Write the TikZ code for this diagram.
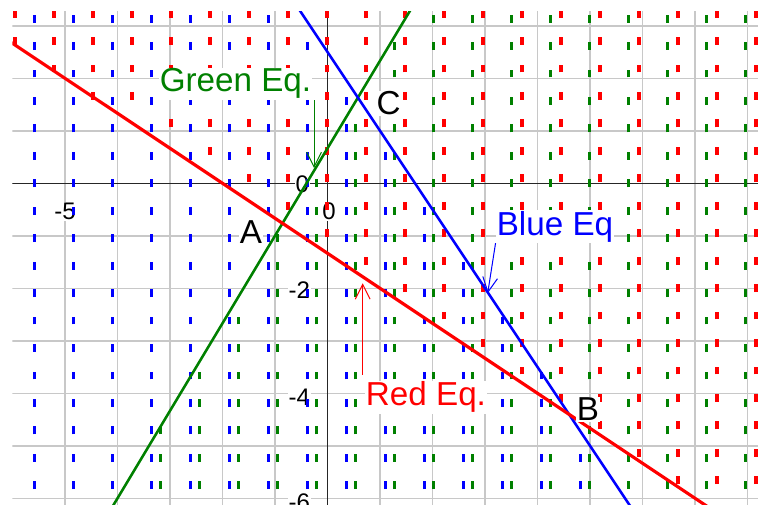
\documentclass[tikz,border=0pt]{standalone}
\usepackage{fontspec}
\setmainfont{Liberation Sans}
\usepackage{tikz}
\usetikzlibrary{arrows.meta}

\definecolor{gridgray}{RGB}{200,200,200}
\definecolor{eqgreen}{RGB}{0,128,0}

\begin{document}
\begin{tikzpicture}[
      gridline/.style={gridgray, line width=0.85pt},
      axisline/.style={black!85, line width=0.7pt},
      ticklabel/.style={fill=white, inner sep=0.5pt, font=\fontsize{13}{13}\selectfont},
      regiontick/.style={line width=1.8pt},
      eqline/.style={line width=1.4pt},
      ptlabel/.style={fill=white, inner sep=0.5pt, anchor=base, font=\fontsize{18}{18}\selectfont},
      eqarrow/.style={-{Straight Barb[length=8pt,width=8pt]}, line width=0.55pt}
    ]
      \useasboundingbox (-6.238,-6.109) rectangle (8.390,3.491);

      \begin{scope}
      \clip (-6,-6.109) rectangle (8.2,3.263);
      % Grid and axes
      \foreach \x in {-5,...,8} \draw[gridline] (\x,-6.2) -- (\x,3.3);
      \foreach \y in {-6,...,3} \draw[gridline] (-6,\y) -- (8.2,\y);
      \draw[axisline] (-6,0) -- (8.2,0);
      \draw[axisline] (0,-6.2) -- (0,3.3);

      % Tick labels
      \node[ticklabel] (xm5) at (-5,-0.54) {-5};
      \node[ticklabel] (x0) at (0.03,-0.53) {0};
      \node[ticklabel, anchor=east] (y0) at (-0.33,-0.01) {0};
      \node[ticklabel, anchor=east] (ym2) at (-0.31,-2.04) {-2};
      \node[ticklabel, anchor=east] (ym4) at (-0.31,-4.08) {-4};
      \node[ticklabel, anchor=east] (ym6) at (-0.31,-6.07) {-6};

      % Half-plane marks
      \foreach \k in {0,...,19}
        \foreach \j in {-11,...,6} {
          \pgfmathsetmacro\bx{-5.5848+0.74286*\k}
          \pgfmathsetmacro\gx{-5.4038+0.74286*\k}
          \pgfmathsetmacro\rx{-5.9524+0.74286*\k}
          \pgfmathsetmacro\by{0.52286*\j}
          \pgfmathsetmacro\ry{0.095+0.52286*\j}
          \pgfmathtruncatemacro\inblue{3*\bx+2*\by<5}
          \pgfmathtruncatemacro\ingreen{5*\gx-3*\by>-2}
          \pgfmathtruncatemacro\inred{2*\rx+3*\ry>-4}
          \ifnum\inblue=1 \draw[regiontick, blue] (\bx,\by-0.075) -- (\bx,\by+0.075); \fi
          \ifnum\ingreen=1 \draw[regiontick, eqgreen] (\gx,\by-0.075) -- (\gx,\by+0.075); \fi
          \ifnum\inred=1 \draw[regiontick, red] (\rx,\ry-0.075) -- (\rx,\ry+0.075); \fi
        }

      % Lines
      \draw[eqline, eqgreen] (-5,-7.667) -- (2,4);
      \draw[eqline, blue] (-1,4) -- (6,-6.5);
      \draw[eqline, red, line width=1.7pt] (-7,3.333) -- (9,-7.333);
      \end{scope}

      % Points and equation labels
      \node[ptlabel] (ptA) at (-1.457,-1.143) {A};
      \node[ptlabel] (ptB) at (4.962,-4.522) {B};
      \node[ptlabel] (ptC) at (1.162,1.301) {C};
      \node[ptlabel, text=eqgreen] (greenlbl) at (-1.752,1.739) {Green Eq.};
      \node[ptlabel, text=red] (redlbl) at (1.876,-4.236) {Red Eq.};
      \node[ptlabel, text=blue] (bluelbl) at (4.333,-0.985) {Blue Eq};

      % Arrows
      \coordinate (gtip) at (-0.257,0.291);
      \coordinate (rtip) at (0.670,-1.905);
      \coordinate (btip) at (3.051,-2.095);
      \draw[eqarrow, eqgreen] (greenlbl.south east -| gtip) -- (gtip);
      \draw[eqarrow, red] ([yshift=3pt]redlbl.north west -| rtip) -- (rtip);
      \draw[eqarrow, blue] (bluelbl.south west) -- (btip);
    \end{tikzpicture}
\end{document}
